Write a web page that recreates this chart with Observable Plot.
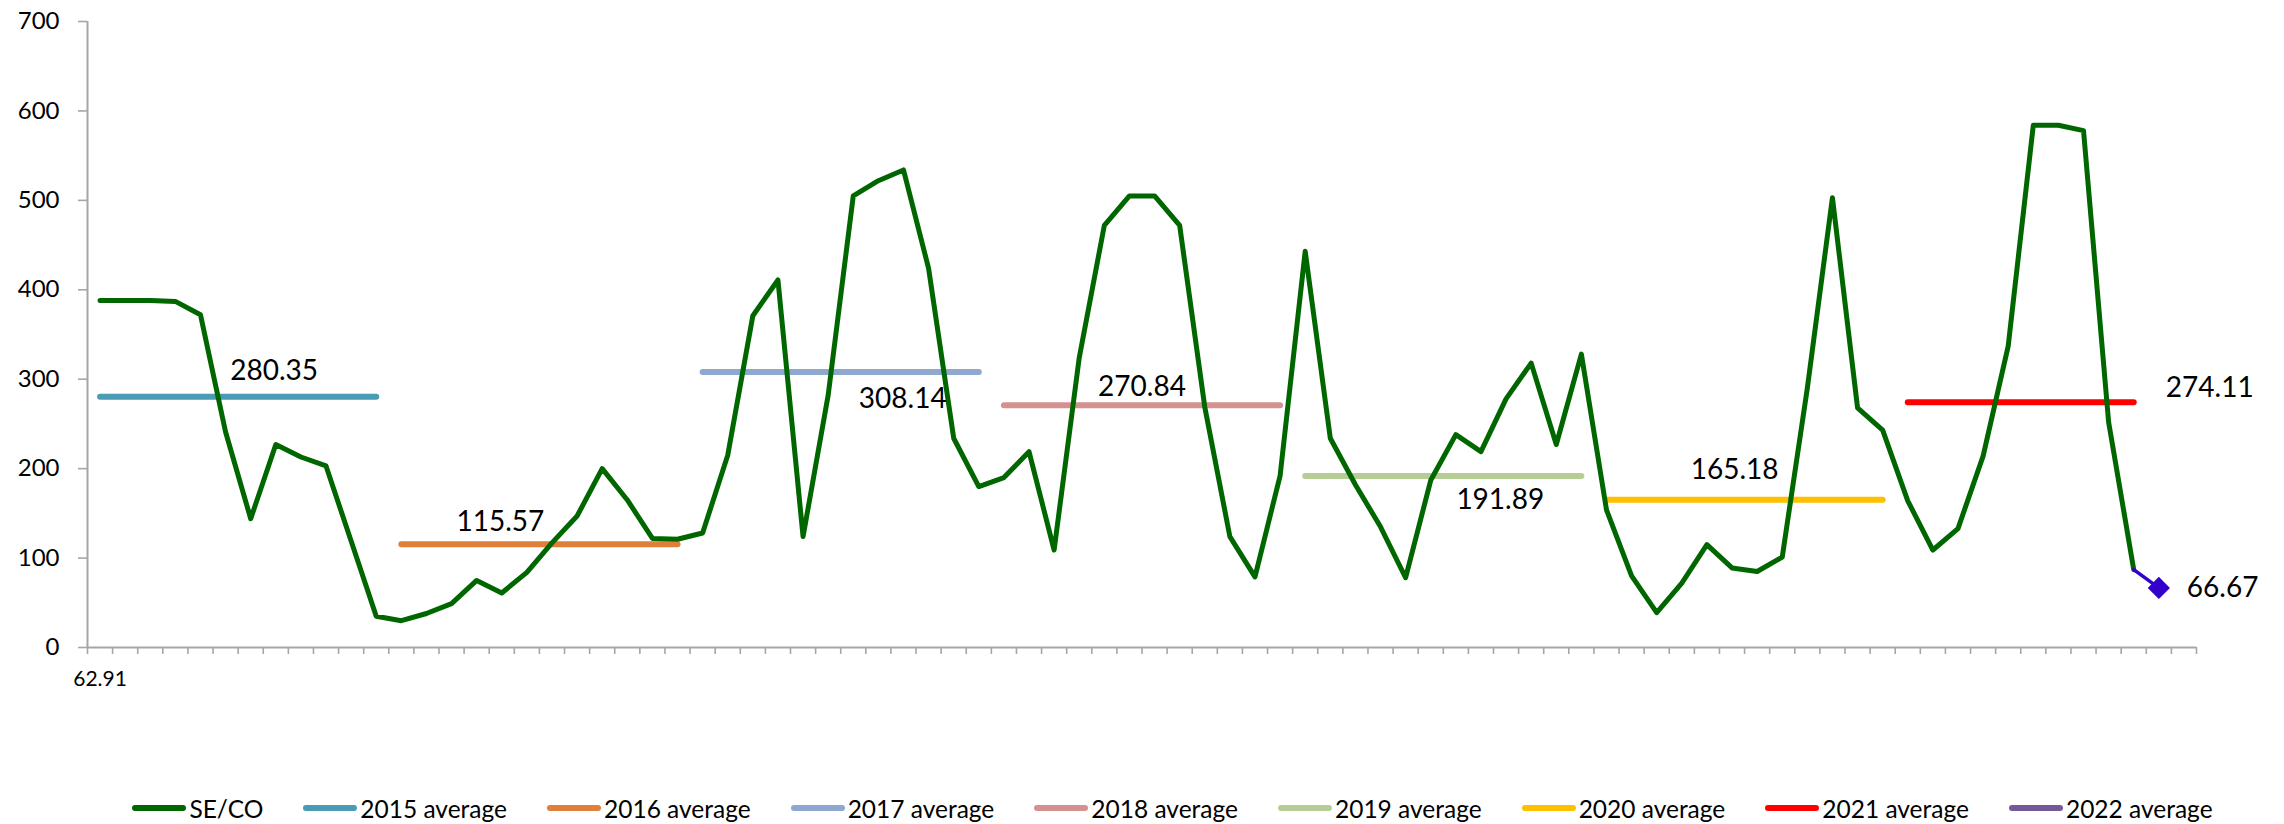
<!DOCTYPE html>
<html>
<head>
<meta charset="utf-8">
<script src="https://cdn.jsdelivr.net/npm/d3@7"></script>
<script src="https://cdn.jsdelivr.net/npm/@observablehq/plot@0.6"></script>
<style>
  html, body { margin: 0; padding: 0; background: #ffffff; }
  body { width: 2284px; height: 824px; overflow: hidden; font-family: Lato, "Noto Sans", sans-serif; }
  #legend { height: 32px; display: flex; align-items: center; justify-content: center; padding-left: 61px; box-sizing: border-box; }
  .item { display: flex; align-items: center; margin-right: 40px; font-size: 24.5px; color: #000; white-space: nowrap; }
  .item:last-child { margin-right: 0; }
  .sw { width: 54px; height: 6px; border-radius: 3px; margin-right: 3px; }
</style>
</head>
<body>
<div id="chart"></div>
<div id="legend"></div>
<script>
// ---- data ----
// SE/CO monthly series (category index = position in array)
const seco = [388, 388, 388, 387, 372, 241, 144, 227, 213, 203, 119, 35,
              30, 38, 49, 75, 61, 84, 117, 147, 200, 165, 122, 121,
              128, 215, 371, 411, 124, 282, 505, 522, 534, 424, 234, 180,
              190, 219, 109, 324, 472, 505, 505, 472, 269, 124, 79, 192,
              443, 234, 182, 135, 78, 187, 238, 219, 278, 318, 227, 328,
              154, 80, 39, 72, 115, 89, 85, 101, 290, 503, 268, 243,
              164, 109, 133, 214, 337, 584, 584, 578, 252, 87];
const lastPointValue = 66.67;       // final (2022) point
const categoryCount = 84;
const xTickLabels = ["62.91"];      // label of the first category; others blank
const yTicks = [0, 100, 200, 300, 400, 500, 600, 700];

const years = ["2015", "2016", "2017", "2018", "2019", "2020", "2021", "2022"];
const averages = [280.35, 115.57, 308.14, 270.84, 191.89, 165.18, 274.11, 66.67];
const spanStart = [0, 12, 24, 36, 48, 60, 72, 82];
const spanEnd = [11, 23, 35, 47, 59, 71, 81, 82];

// ---- styles ----
const green = "#006600";
const avgColors = ["#4A9CB4", "#E07F3A", "#8EA8D2", "#D59090", "#B7CD96", "#FFC000", "#FF0000", "#735A96"];
const labelDx = [36, -39, 62, 0, 57, -10, 189, 28];
const labelDy = [-26, -22, 27, -18, 24, -30, -14, 0];
const axisGray = "#A6A6A6";

// ---- build tables ----
const line = seco.map((v, k) => ({k, v}));
const tail = [{k: seco.length - 1, v: seco[seco.length - 1]}, {k: seco.length, v: lastPointValue}];
const avg = years.map((y, i) => ({year: y, value: averages[i], x1: spanStart[i], x2: spanEnd[i], color: avgColors[i], i}));
const boundaries = d3.range(categoryCount + 1).map(i => i - 0.5);
const fmt = d3.format(".2f");

const marks = [
  Plot.ruleY([0], {stroke: axisGray, strokeWidth: 2}),
  Plot.ruleX([-0.5], {stroke: axisGray, strokeWidth: 2}),
  Plot.axisY({ticks: yTicks, tickSize: 9, tickPadding: 19, stroke: axisGray, strokeWidth: 1.6, fontSize: 24, fill: "#000", tickFormat: d => String(d)}),
  Plot.axisX({ticks: boundaries, tickSize: 7, stroke: axisGray, strokeWidth: 1.6, tickFormat: () => ""}),
  Plot.text(xTickLabels.map((t, k) => ({k, t})), {x: "k", y: 0, text: "t", dy: 32, fontSize: 21, fill: "#000"}),
  Plot.link(avg.filter(d => d.x2 > d.x1), {x1: "x1", x2: "x2", y1: "value", y2: "value", stroke: "color", strokeWidth: 6, strokeLinecap: "round"}),
  Plot.line(line, {x: "k", y: "v", stroke: green, strokeWidth: 5, strokeLinejoin: "round", strokeLinecap: "round"}),
  Plot.line(tail, {x: "k", y: "v", stroke: "#3300CC", strokeWidth: 3.5}),
  Plot.dot(tail.slice(1), {x: "k", y: "v", symbol: "diamond2", r: 10, fill: "#3300CC", stroke: "none"})
];
avg.forEach((d, i) => {
  const last = d.x1 === d.x2;
  marks.push(Plot.text([d], {
    x: e => (e.x1 + e.x2) / 2, y: "value", text: e => fmt(e.value),
    dx: labelDx[i], dy: labelDy[i], fontSize: 28, fill: "#000",
    textAnchor: last ? "start" : "middle"
  }));
});

const chart = Plot.plot({
  width: 2284,
  height: 792,
  marginTop: 21,
  marginBottom: 145,
  marginLeft: 87,
  marginRight: 88,
  style: {fontFamily: "Lato, 'Noto Sans', sans-serif", background: "#ffffff", color: "#000"},
  x: {type: "linear", domain: [-0.5, categoryCount - 0.5]},
  y: {domain: [0, 700]},
  marks
});
document.getElementById("chart").appendChild(chart);

// ---- legend ----
const legendItems = [{name: "SE/CO", color: green}].concat(years.map((y, i) => ({name: y + " average", color: avgColors[i]})));
const lg = document.getElementById("legend");
legendItems.forEach(it => {
  const el = document.createElement("div");
  el.className = "item";
  const sw = document.createElement("div");
  sw.className = "sw";
  sw.style.background = it.color;
  const tx = document.createElement("span");
  tx.textContent = it.name;
  el.appendChild(sw);
  el.appendChild(tx);
  lg.appendChild(el);
});
</script>
</body>
</html>
